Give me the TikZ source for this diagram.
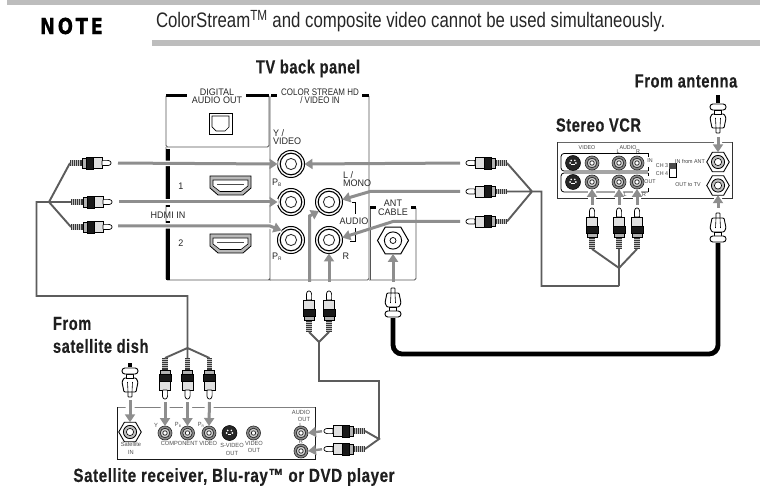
\documentclass[tikz,border=0pt]{standalone}
\usepackage{fontspec}
\setmainfont{Liberation Sans}
\newfontfamily\ttlf[FakeStretch=0.77,LetterSpace=3,FakeBold=0.4]{Liberation Sans Bold}
\newfontfamily\ttlw[FakeStretch=0.8,LetterSpace=3,FakeBold=0.4]{Liberation Sans Bold}
\newfontfamily\bodyf[FakeStretch=0.8]{Liberation Sans}
\newfontfamily\notef[LetterSpace=12,FakeStretch=0.82,FakeBold=0.5]{DejaVu Sans Bold}
\newfontfamily\labf[FakeStretch=0.95]{Liberation Sans}
\newfontfamily\labn[FakeStretch=0.84]{Liberation Sans}
\usetikzlibrary{arrows.meta,shapes.geometric}
\definecolor{arwgray}{HTML}{8E8E8E}
\definecolor{cblgray}{HTML}{5C5C5C}
\definecolor{barg}{HTML}{BDBDBD}
\definecolor{lng}{HTML}{555555}
\newcommand{\fsz}[1]{\fontsize{#1}{#1}\selectfont}
\tikzset{
  x=1pt,y=-1pt,
  every node/.style={inner sep=0pt,outer sep=0pt},
  arw/.style={draw=arwgray,line width=3pt,-{Triangle[length=8pt,width=10pt]}},
  casing/.style={preaction={draw=white,line width=5.5pt,arrows=-}},
  cbl/.style={draw=cblgray,line width=1.9pt,line join=miter},
  coaxcable/.style={draw=black,line width=4.8pt,rounded corners=9pt},
  thinbox/.style={draw=lng,line width=0.8pt,rounded corners=1.5pt},
  thickbar/.style={draw=black,line width=3pt},
  ttl/.style={font=\ttlf\fsz{19},text=black!88},
  plab/.style={font=\labf\fontsize{9.5}{8.5}\selectfont,align=center,text=black!85},
  tinylab/.style={font=\labf\fsz{5.6},align=center,text=black!75},
  tinyc/.style={font=\labf\fsz{6},align=center,text=black!70},
  bigjack/.style={circle,draw=black,line width=1pt,fill=white,minimum size=27pt,
    path picture={
      \draw[line width=1.1pt] (path picture bounding box.center) circle (10.8pt);
      \draw[line width=0.9pt,draw=black!80] (path picture bounding box.center) circle (5.6pt);}},
  smalljack/.style={circle,draw=black!85,line width=0.6pt,fill=black!45,minimum size=14pt,
    path picture={
      \draw[line width=0.7pt,draw=black!85,fill=black!20] (path picture bounding box.center) circle (4.8pt);
      \draw[line width=0.7pt,draw=black!85,fill=white] (path picture bounding box.center) circle (2.2pt);}},
  svideo/.style={circle,draw=black,fill=black!85,line width=0.5pt,minimum size=15pt,
    path picture={
      \fill[white] (path picture bounding box.center) ++(-2.8,0) circle (1pt) ++(5.6,0) circle (1pt);
      \fill[white] (path picture bounding box.center) ++(-1.8,-2.6) circle (.9pt) ++(3.6,0) circle (.9pt);
      \fill[white] (path picture bounding box.center) ++(-1.6,2.4) rectangle ++(3.2,-1.4);}},
  hexbig/.style={regular polygon,regular polygon sides=6,draw=black,line width=1pt,fill=white,minimum size=31pt,
    path picture={
      \draw[line width=.9pt] (path picture bounding box.center) circle (8.6pt);
      \draw[line width=.7pt] (path picture bounding box.center) circle (3pt);}},
  hexmid/.style={regular polygon,regular polygon sides=6,draw=black,line width=.9pt,fill=white,minimum size=22.5pt,
    path picture={
      \draw[line width=.8pt,fill=black!25] (path picture bounding box.center) circle (6.6pt);
      \draw[line width=.6pt,fill=white] (path picture bounding box.center) circle (3.6pt);
      \fill (path picture bounding box.center) circle (1pt);}},
  rca/.pic={
    \coordinate (-tip) at (0,0);
    \coordinate (-end) at (-41,0);
    \fill[black!78] (-41,-2.6) rectangle (-29,2.6);
    \foreach \xx in {-39.5,-37.5,...,-30}{\draw[black!25,line width=.4pt] (\xx,-2.6) -- (\xx,2.6);}
    \draw[black,line width=.6pt,fill=black!30] (-29,-5) rectangle (-25,5);
    \draw[black,fill=black!90,line width=.6pt] (-25,-6) rectangle (-18,6);
    \draw[black,fill=black!12,line width=.7pt] (-18,-5.6) rectangle (-9,5.6);
    \draw[black,fill=white,line width=.7pt,rounded corners=.8pt] (-9,-2.6) -- (-2.5,-2.6) -- (0,-1.2) -- (0,1.2) -- (-2.5,2.6) -- (-9,2.6) -- cycle;
  },
  coax/.pic={
    \coordinate (-tip) at (0,0);
    \coordinate (-end) at (-30,0);
    \draw[black,fill=white,line width=.8pt,rounded corners=.6pt] (-5,-2) -- (0,-2) -- (0,2) -- (-5,2);
    \draw[black,fill=white,line width=.9pt,rounded corners=1pt] (-5,-6) -- (-5,6) -- (-15,8) -- (-19,6) -- (-19,-6) -- (-15,-8) -- cycle;
    \draw[black,line width=.6pt] (-5,-2) -- (-15,-2.5) (-5,2) -- (-15,2.5);
    \draw[black,fill=white,line width=.8pt] (-19,-3.5) rectangle (-23,3.5);
    \draw[black,fill=white,line width=.9pt,rounded corners=2.8pt] (-23,-8) rectangle (-29,8);
  },
  hdmi/.pic={
    \draw[black,line width=.8pt,fill=black!28] (0,0) -- (41,0) -- (41,12) -- (33,19) -- (8,19) -- (0,12) -- cycle;
    \draw[black,line width=.6pt,fill=white] (3,4) -- (38,4) -- (38,10) -- (31,15.5) -- (10,15.5) -- (3,10) -- cycle;
    \draw[black!70,line width=.5pt] (7,8) -- (34,8);
  }
}
\begin{document}
\begin{tikzpicture}
\useasboundingbox (0,0) rectangle (760,486);
% header
\fill[barg] (7,0) rectangle (760,5.5);
\fill[barg] (152,40) rectangle (760,46.5);
\node[font=\notef\fsz{22},anchor=west] (note) at (40,26) {NOTE};
\node[font=\bodyf\fsz{21},anchor=west,text=black!85] (notetext) at (156,21) {ColorStream\textsuperscript{TM} and composite video cannot be used simultaneously.};
% titles
\node[ttl] (ttv) at (308,68.5) {TV back panel};
\node[ttl] (tant) at (686,81) {From antenna};
\node[ttl] (tvcr) at (598.5,125) {Stereo VCR};
\node[ttl,anchor=west] (tfrom) at (53,323.5) {From};
\node[ttl,anchor=west] (tdish) at (53,346) {satellite dish};
\node[ttl,font=\ttlw\fsz{19}] (tsat) at (234,477) {Satellite receiver, Blu-ray™ or DVD player};
% TV panel frames
\draw[thinbox] (166,96) -- (166,147) -- (269,147) -- (269,96);
\draw[thinbox] (166,147) -- (166,280) -- (269,280) -- (270,280) -- (270,96);
\draw[thinbox] (270,280) -- (369,280) -- (369,96);
\draw[thinbox] (369,280) -- (416,280) -- (416,208);
\draw[thinbox] (370,280) -- (370,208);
\draw[thickbar] (166,96) -- (187,96) (246,96) -- (269,96);
\draw[thickbar] (271,96) -- (277,96) (362,96) -- (369,96);
\draw[thickbar] (370,208) -- (376,208) (411,208) -- (416,208);
\draw[thickbar,line width=3.4pt] (168,149) -- (168,207.5) (168,221.5) -- (168,280);
\node[plab] (ldig) at (217,96) {DIGITAL\\AUDIO OUT};
\node[plab,font=\labn\fontsize{9.5}{8.5}\selectfont] (lcol) at (320,96) {COLOR STREAM HD\\/ VIDEO IN};
\node[plab,anchor=west,align=left] (lyv) at (273,137) {Y /\\VIDEO};
\node[plab,anchor=west] (lpb) at (272,183) {P\raisebox{-.2ex}{\fsz{5}B}};
\node[plab,anchor=west] (lpr) at (272,256.5) {P\raisebox{-.2ex}{\fsz{5}R}};
\node[plab,anchor=west,align=left] (lmono) at (343,179) {L /\\MONO};
\node[plab] (laudio) at (354,221) {AUDIO};
\node[plab] (lr) at (346,256.5) {R};
\node[plab] (lant) at (393,208) {ANT\\CABLE};
\node[plab] (lh) at (168,215) {HDMI IN};
\node[plab] (l1) at (181,186) {1};
\node[plab] (l2) at (181,243) {2};
\pic at (210,176) {hdmi};
\pic at (210,234) {hdmi};
\draw[black,line width=.9pt] (209,113) rectangle (232,134);
\draw[black,line width=.7pt] (212,116) -- (229,116) -- (229,127) -- (225,131) -- (216,131) -- (212,127) -- cycle;
\draw[black,line width=.6pt] (352,202.5) -- (355,202.5) -- (355,214) (355,228) -- (355,241) -- (350,241);
% TV jacks
\node[bigjack] (jY) at (291,164) {};
\node[bigjack] (jPb) at (291,202) {};
\node[bigjack] (jPr) at (291,240) {};
\node[bigjack] (jL) at (329,202) {};
\node[bigjack] (jR) at (329,240) {};
\node[hexbig] (jAnt) at (393,240.5) {};
% VCR box
\draw[draw=black!60,line width=.9pt] (557.5,142) -- (732,142);
\draw[draw=black!80,line width=.9pt] (732,142) -- (732,198) -- (557.5,198) -- (557.5,142);
\draw[black,line width=.8pt,rounded corners=3pt] (648,153.5) -- (561,153.5) -- (561,171) -- (648,171);
\draw[black,line width=.8pt,rounded corners=3pt] (648,173) -- (561,173) -- (561,192) -- (648,192);
\draw[black,line width=.8pt] (648,153.5) -- (648,157) (648,167) -- (648,171) (648,173) -- (648,176) (648,188) -- (648,192);
\fill[white] (588,189) rectangle (596,200) (615,189) rectangle (623,200) (633,189) rectangle (641,200) (714,195) rectangle (722,200) (714,140) rectangle (722,144);
\node[tinylab] (vV) at (587,148) {VIDEO};
\node[tinylab] (vA) at (628,148) {AUDIO};
\node[tinylab] (vLi) at (618,152) {L};
\node[tinylab] (vRi) at (638,152) {R};
\node[tinylab] (vIN) at (650,161) {IN};
\node[tinylab] (vOUT) at (650,182) {OUT};
\node[tinylab] (vLo) at (625,194.5) {L};
\node[tinylab] (vRo) at (644,194.5) {R};
\node[tinylab] (vC3) at (662,166) {CH 3};
\node[tinylab] (vC4) at (662,174) {CH 4};
\node[tinylab] (vIA) at (690,162) {IN from ANT};
\node[tinylab] (vOT) at (688,185) {OUT to TV};
\draw[black,line width=.6pt,fill=white] (669,163) rectangle (676,177);
\fill[black!70] (669,163) rectangle (676,169.5);
\node[svideo] (vs1) at (573,163) {};
\node[svideo] (vs2) at (573,182) {};
\node[smalljack] (vv1) at (592,163) {};
\node[smalljack] (vv2) at (592,182) {};
\node[smalljack] (va1) at (619,163) {};
\node[smalljack] (va2) at (637,163) {};
\node[smalljack] (va3) at (619,182) {};
\node[smalljack] (va4) at (637,182) {};
\node[hexmid] (vhA) at (718,162) {};
\node[hexmid] (vhB) at (718,185.5) {};
% Satellite box
\draw[draw=black!50,line width=.9pt] (117,407) -- (315,407);
\draw[black!90,line width=.9pt] (315,407) -- (315,459) -- (117,459) -- (117,407);
\fill[white] (125.5,404) rectangle (134.5,410) (160.5,404) rectangle (169.5,410) (183,404) rectangle (192,410) (204.5,404) rectangle (213.5,410);
\node[tinyc] (sS) at (131,444) {Satellite};
\node[tinyc] (sI) at (131,452.5) {IN};
\node[tinyc] (sY) at (156,425) {Y};
\node[tinyc] (sPb) at (178,425) {P\raisebox{-.2ex}{\fsz{3.5}B}};
\node[tinyc] (sPr) at (201,425) {P\raisebox{-.2ex}{\fsz{3.5}R}};
\node[tinyc] (sC) at (189,443) {COMPONENT VIDEO};
\node[tinyc] (sSV) at (232,445) {S-VIDEO};
\node[tinyc] (sSO) at (232,453) {OUT};
\node[tinyc] (sVV) at (254,443) {VIDEO};
\node[tinyc] (sVO) at (254,450.5) {OUT};
\node[tinyc] (sAA) at (301,412) {AUDIO};
\node[tinyc] (sAO) at (304,419) {OUT};
\node[tinyc] (sAL) at (301,425) {L};
\node[tinyc] (sAR) at (301,441.5) {R};
\node[hexmid] (sHex) at (130,432) {};
\node[smalljack] (sJY) at (165,433) {};
\node[smalljack] (sJPb) at (187.5,433) {};
\node[smalljack] (sJPr) at (209,433) {};
\node[svideo] (sJS) at (229.5,433) {};
\node[smalljack] (sJV) at (253.5,433) {};
\node[smalljack] (sJL) at (301,433) {};
\node[smalljack] (sJR) at (301,451) {};
% plugs
\pic (pA) at (111,163) {rca};
\pic (pB) at (112,202) {rca};
\pic (pC) at (112,227) {rca};
\pic[rotate=180] (qA) at (466,163) {rca};
\pic[rotate=180] (qB) at (466,191.5) {rca};
\pic[rotate=180] (qC) at (466,221.5) {rca};
\pic[rotate=90] (vA1) at (592,208) {rca};
\pic[rotate=90] (vA2) at (619,208) {rca};
\pic[rotate=90] (vA3) at (637,208) {rca};
\pic[rotate=90] (mL) at (309,291) {rca};
\pic[rotate=90] (mR) at (329,291) {rca};
\pic[rotate=-90] (sA) at (165,399) {rca};
\pic[rotate=-90] (sB) at (187.5,399) {rca};
\pic[rotate=-90] (sC2) at (209.5,399) {rca};
\pic[rotate=180] (aL) at (324,431) {rca};
\pic[rotate=180] (aR) at (324,449) {rca};
\pic[rotate=90] (cAnt) at (393,288) {coax};
\pic[rotate=90] (cTv) at (718,213) {coax};
\pic[rotate=-90] (cTop) at (718,133) {coax};
\pic[rotate=-90] (cSat) at (130,397) {coax};
% junctions
\coordinate (j1) at (49,202);
\coordinate (j1b) at (36.5,202);
\coordinate (j1c) at (36.5,296);
\coordinate (j1d) at (187.5,296);
\coordinate (j2) at (187.5,348);
\coordinate (j3) at (532,191.5);
\coordinate (j3b) at (541.5,191.5);
\coordinate (j3c) at (541.5,286);
\coordinate (j3d) at (619,286);
\coordinate (j4) at (619,268);
\coordinate (j5) at (319,342);
\coordinate (j5b) at (319,381);
\coordinate (j5c) at (379,381);
\coordinate (j6) at (379,439);
% cables
\draw[cbl] (pA-end) -- (j1) -- (pC-end) (pB-end) -- (j1b) -- (j1c) -- (j1d) -- (j2);
\draw[cbl] (sA-end) -- (j2) -- (sC2-end) (j2) -- (sB-end);
\draw[cbl] (qA-end) -- (j3) -- (qC-end) (qB-end) -- (j3b) -- (j3c) -- (j3d);
\draw[cbl] (vA1-end) -- (j4) -- (vA3-end) (vA2-end) -- (j3d);
\draw[cbl] (mL-end) -- (j5) -- (mR-end) (j5) -- (j5b) -- (j5c) -- (j6);
\draw[cbl] (aL-end) -- (j6) -- (aR-end);
\coordinate (antTop) at (718,95);
\coordinate (dishTop) at (130,363);
\draw[draw=black,line width=4.8pt] (cTop-end) -- (antTop);
\draw[draw=black,line width=4.8pt] (cSat-end) -- (dishTop);
\coordinate (cb1) at (393,354);
\coordinate (cb2) at (718,354);
\draw[coaxcable] (cAnt-end) -- (cb1) -- (cb2) -- (cTv-end);
% arrows
\draw[arw,casing,shorten <=7pt] (pA-tip) -- (jY.west);
\draw[arw,casing,shorten <=7pt] (pB-tip) -- (jPb.west);
\coordinate (bPr) at (270,226);
\draw[arw,casing] (118,226) -- (bPr) -- (jPr.135);
\draw[arw,shorten <=6pt] (qA-tip) -- (jY.east);
\coordinate (bL) at (370,191.5);
\draw[arw,shorten <=6pt] (qB-tip) -- (bL) -- (jL.10);
\coordinate (bR) at (393,221.5);
\draw[arw,shorten <=6pt] (qC-tip) -- (bR) -- (jR.10);
\coordinate (bM) at (309.5,216);
\coordinate (mLs) at (309.5,282);
\draw[arw] (mLs) -- (bM) -- (jL.222);
\draw[arw,shorten <=9pt] (mR-tip) -- (jR.south);
\draw[arw,shorten <=6pt] (cAnt-tip) -- (jAnt.south);
\draw[arw,shorten <=3pt] (vA1-tip) -- (vv2.south);
\draw[arw,shorten <=3pt] (vA2-tip) -- (va3.south);
\draw[arw,shorten <=3pt] (vA3-tip) -- (va4.south);
\draw[arw,shorten <=4pt] (cTop-tip) -- (vhA.north);
\draw[arw,shorten <=5pt] (cTv-tip) -- (vhB.south);
\draw[arw,shorten <=3pt] (sA-tip) -- (sJY.north);
\draw[arw,shorten <=3pt] (sB-tip) -- (sJPb.north);
\draw[arw,shorten <=3pt] (sC2-tip) -- (sJPr.north);
\draw[arw,shorten <=3pt] (cSat-tip) -- (sHex.north);
\draw[arw,shorten <=2pt,line width=2.4pt] (aL-tip) -- (sJL.east);
\draw[arw,shorten <=2pt,line width=2.4pt] (aR-tip) -- (sJR.east);
\end{tikzpicture}
\end{document}
